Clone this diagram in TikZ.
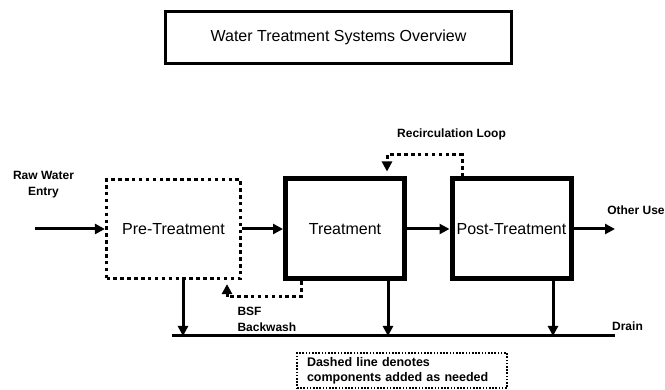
\documentclass[tikz,border=0pt]{standalone}
\usepackage{fontspec}
\setmainfont{Liberation Sans}
\usetikzlibrary{arrows.meta, positioning}

\begin{document}
\begin{tikzpicture} [x=1pt, y=-1pt,
            node distance = 170pt,
            on grid,
            boxtext/.style = {font=\fontsize{16}{19}\selectfont},
            tag/.style = {font=\fontsize{12}{16}\selectfont\bfseries, align=center},
            solidbox/.style = {boxtext, draw, line width=5pt,
                minimum width=119pt, minimum height=100pt, inner sep=1pt},
            dotbox/.style = {boxtext, draw, line width=3.2pt,
                dash pattern=on 3.5pt off 3.4pt,
                minimum width=134pt, minimum height=99pt},
            flow/.style = {line width=3pt, -{Triangle[length=10pt, width=10pt]}},
            dotflow/.style = {flow, dash pattern=on 3.5pt off 3.4pt}]
            \useasboundingbox (0,0) rectangle (665,390);

            % Title
            \node (title) [boxtext,
                draw,
                line width=2.5pt,
                minimum width=346pt,
                minimum height=52pt] at (338.5,37.5) {Water Treatment Systems Overview};

            % Pre-treatment
            \node (pre) [dotbox] at (173.5,229) {Pre-Treatment};

            % Treatment
            \node (treat) [solidbox,
                right = 171.5pt of pre] {Treatment};

            % Post-treatment
            \node (post) [solidbox,
                right = 166.5pt of treat] {Post-Treatment};

            % Labels
            \node (rawlbl) [tag] at (43.5,185) {Raw Water\\Entry};
            \node (uselbl) [tag] at (636,210) {Other Use};
            \node (recirclbl) [tag] at (451.5,134) {Recirculation Loop};
            \node (bsflbl) [tag, align=left, anchor=west] at (234,319) {BSF\\Backwash};
            \node (drainlbl) [tag] at (627.5,326) {Drain};

            % Legend
            \node (legend) [draw,
                line width=1.6pt,
                dash pattern=on 1.6pt off 1.6pt,
                minimum width=210pt,
                minimum height=35pt,
                text width=190pt,
                align=left,
                font=\fontsize{12.5}{15}\selectfont\bfseries] at (402,370.5)
                {Dashed line denotes\\components added as needed};

            % Free ends
            \coordinate (raw) at (35,229);
            \coordinate (use) at (615,229);
            \coordinate (rc1) at (462,155);
            \coordinate (rc2) at (387,155);
            \coordinate (bsf1) at (301,297);
            \coordinate (bsf2) at (227,297);
            \coordinate (dl) at (172,336);
            \coordinate (dr) at (615,336);
            \coordinate (d1) at (183,336);
            \coordinate (d2) at (388,336);
            \coordinate (d3) at (553,336);

            % Arrows
            \draw [flow] (raw) -- (pre);
            \draw [flow] (pre) -- (treat);
            \draw [flow] (treat) -- (post);
            \draw [flow] (post) -- (use);

            % Recirculation and backwash
            \draw [dotflow, shorten >=5pt] (post.north -| rc1) |- (rc2) -- (treat.north -| rc2);
            \draw [dotflow, shorten >=4pt] (treat.south -| bsf1) |- (bsf2) -- (pre.south -| bsf2);

            % Drain
            \draw [line width=3pt] (dl) -- (dr);
            \draw [flow] (pre.south -| d1) -- (d1);
            \draw [flow] (treat.south -| d2) -- (d2);
            \draw [flow] (post.south -| d3) -- (d3);
        \end{tikzpicture}
\end{document}
